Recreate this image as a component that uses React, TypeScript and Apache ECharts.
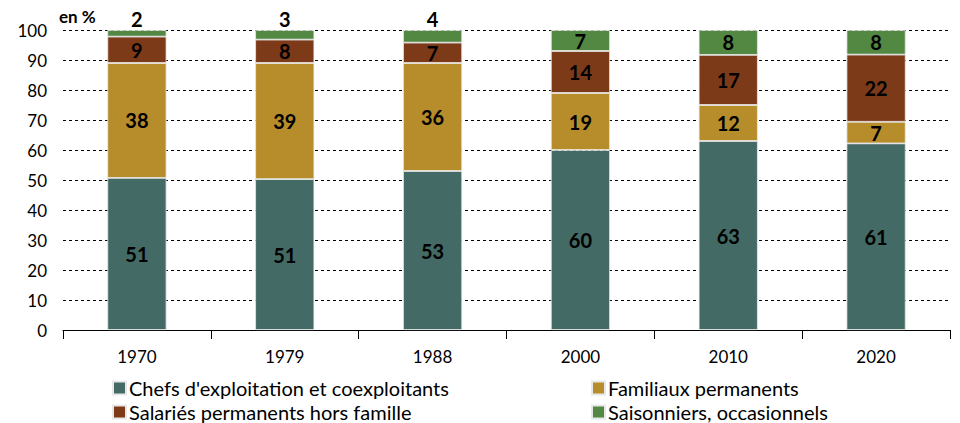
import React, { useEffect, useRef } from "react";
import * as echarts from "echarts";

const categories = ["1970", "1979", "1988", "2000", "2010", "2020"];
const chefs = [50.7, 50.3, 53, 60, 63, 62.2];
const familiaux = [38.3, 38.7, 36, 19, 12, 7.2];
const salaries = [8.8, 7.8, 6.8, 14, 16.7, 22.4];
const saisonniers = [2.2, 3.2, 4.2, 7, 8.3, 8.2];
const chefsLabels = ["51", "51", "53", "60", "63", "61"];
const familiauxLabels = ["38", "39", "36", "19", "12", "7"];
const salariesLabels = ["9", "8", "7", "14", "17", "22"];
const saisonniersLabels = ["2", "3", "4", "7", "8", "8"];
const yTicks = [0, 10, 20, 30, 40, 50, 60, 70, 80, 90, 100];

const FONT = "Lato";

export default function App() {
  const ref = useRef<HTMLDivElement>(null);
  useEffect(() => {
    if (!ref.current) return;
    const chart = echarts.init(ref.current, null, { renderer: "svg" });
    const labelStyle = {
      show: true,
      color: "#000",
      fontWeight: "bold" as const,
      fontSize: 20,
      fontFamily: FONT,
    };
    const mk = (name: string, vals: number[], labels: string[], color: string, topIdx: number[] = []) => ({
      name,
      type: "bar",
      stack: "total",
      barWidth: "40%",
      itemStyle: { color, borderColor: "#e8e8e8", borderWidth: 0.8 },
      label: { ...labelStyle, position: "inside", formatter: (p: any) => labels[p.dataIndex] },
      data: vals.map((v, i) =>
        topIdx.includes(i)
          ? { value: v, label: { position: "top", distance: 1 } }
          : { value: v }
      ),
    });
    const legendText = {
      fontSize: 20,
      lineHeight: 19,
      fontFamily: FONT,
      color: "#000",
      padding: [0, 0, 0, -2],
    };
    const legendBase = {
      orient: "vertical",
      top: 378,
      padding: 0,
      itemWidth: 13,
      itemHeight: 13,
      itemGap: 4,
      icon: "rect",
      textStyle: legendText,
    };
    chart.setOption({
      animation: false,
      textStyle: { fontFamily: FONT },
      grid: { left: 63, right: 10, top: 30, bottom: 93 },
      graphic: [
        {
          type: "text",
          left: 59,
          top: 8,
          style: { text: "en %", fontSize: 17, fontWeight: "bold", fontFamily: FONT, fill: "#000" },
        },
      ],
      legend: [
        {
          ...legendBase,
          left: 112,
          data: ["Chefs d'exploitation et coexploitants", "Salariés permanents hors famille"],
        },
        {
          ...legendBase,
          left: 591,
          data: ["Familiaux permanents", "Saisonniers, occasionnels"],
        },
      ],
      xAxis: {
        type: "category",
        data: categories,
        axisLine: { lineStyle: { color: "#000", width: 1 } },
        axisTick: { show: true, length: 9, lineStyle: { color: "#000" } },
        axisLabel: { color: "#000", fontSize: 17, fontFamily: FONT, margin: 18 },
      },
      yAxis: {
        type: "value",
        min: 0,
        max: 100,
        interval: 10,
        axisLine: { show: false },
        axisTick: { show: false },
        axisLabel: {
          color: "#000",
          fontSize: 17,
          fontFamily: FONT,
          margin: 16,
          formatter: (v: number) => (yTicks.includes(v) ? String(v) : ""),
        },
        splitLine: { lineStyle: { color: "#000", type: [3, 3], width: 1 } },
      },
      series: [
        mk("Chefs d'exploitation et coexploitants", chefs, chefsLabels, "#436A65"),
        mk("Familiaux permanents", familiaux, familiauxLabels, "#B78D2B"),
        mk("Salariés permanents hors famille", salaries, salariesLabels, "#7D3A19"),
        mk("Saisonniers, occasionnels", saisonniers, saisonniersLabels, "#538843", [0, 1, 2]),
      ],
    });
    return () => chart.dispose();
  }, []);
  return (
    <div
      ref={ref}
      style={{ width: 960, height: 423, position: "absolute", left: 0, top: 0 }}
    />
  );
}
